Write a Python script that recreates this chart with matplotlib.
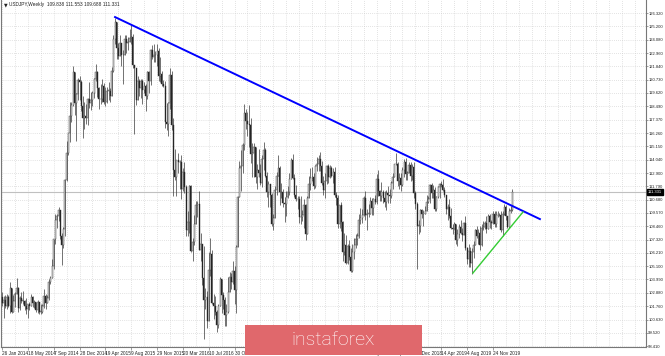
import numpy as np
import matplotlib
matplotlib.use("Agg")
import matplotlib.pyplot as plt
from matplotlib.patches import Rectangle

# USDJPY weekly candles, 26 Jan 2014 .. 16 Feb 2020 (open = previous close)
first_open = 102.5
closes = [
    # 2014
    102.0, 102.3, 101.8, 102.5, 101.8, 103.3, 101.3, 102.2, 102.8, 103.3,
    101.6, 102.4, 102.2, 102.2, 101.8, 101.5, 101.9, 101.8, 102.5, 102.0,
    102.1, 101.4, 102.1, 101.3, 101.3, 101.8, 102.6, 102.0, 102.4, 103.8,
    104.1, 105.1, 107.4, 109.0, 109.3, 109.8, 107.6, 106.9, 108.2, 112.3,
    114.6, 116.3, 117.7, 118.6, 121.4, 118.8, 119.5, 120.7, 120.5,
    # 2015
    118.5, 117.5, 117.7, 117.5, 119.1, 118.8, 119.0, 119.6, 120.8, 121.4,
    120.0, 119.1, 119.1, 120.2, 118.9, 118.9, 119.8, 119.8, 119.4, 121.5,
    124.1, 125.6, 123.4, 122.7, 123.8, 122.8, 122.8, 124.1, 123.8, 123.9,
    124.2, 124.3, 122.0, 121.7, 119.0, 120.6, 120.0, 120.6, 119.9, 120.2,
    119.4, 121.4, 120.6, 123.2, 122.6, 122.8, 122.8, 123.1, 121.0, 121.2,
    120.4, 120.2,
    # 2016
    117.2, 117.0, 118.8, 121.1, 116.9, 113.2, 112.6, 114.0, 113.8, 113.8,
    111.6, 113.0, 111.7, 108.1, 108.8, 111.8, 106.4, 107.1, 108.6, 110.2,
    110.3, 106.5, 107.0, 104.1, 102.3, 102.5, 100.5, 104.8, 106.1, 102.0,
    101.8, 101.3, 100.2, 101.8, 104.0, 102.7, 102.3, 101.0, 101.3, 102.9,
    104.2, 103.8, 104.7, 103.1, 106.7, 110.9, 113.3, 113.5, 115.3, 117.9,
    117.3, 117.0,
    # 2017
    116.9, 114.5, 114.6, 115.1, 112.6, 113.2, 112.9, 112.1, 114.1, 114.8,
    112.7, 111.3, 112.0, 111.1, 108.6, 109.1, 111.5, 112.7, 113.3, 111.3,
    111.3, 110.4, 110.3, 110.9, 111.3, 112.4, 114.0, 112.5, 111.1, 110.7,
    110.7, 109.2, 109.2, 109.4, 110.2, 107.8, 110.8, 112.0, 112.5, 112.6,
    111.8, 113.5, 113.7, 114.1, 113.5, 112.1, 111.5, 112.2, 113.5, 112.6,
    113.3, 112.7,
    # 2018
    113.0, 111.1, 110.8, 108.6, 110.2, 108.8, 106.3, 106.9, 105.4, 106.8,
    105.9, 104.7, 106.3, 106.9, 107.4, 107.6, 109.0, 109.1, 109.4, 110.8,
    109.4, 109.5, 109.5, 110.6, 110.0, 110.7, 110.5, 112.4, 111.4, 111.0,
    111.3, 110.8, 110.5, 111.25, 111.1, 111.0, 112.05, 112.6, 113.7, 113.7,
    112.2, 112.5, 111.9, 113.2, 113.8, 112.8, 112.9, 113.6, 112.7, 113.4,
    111.2, 110.3,
    # 2019 - 2020
    108.5, 108.5, 109.8, 109.5, 109.5, 109.7, 110.5, 110.7, 111.9, 111.2,
    111.5, 109.9, 110.9, 111.7, 112.0, 111.9, 111.5, 111.1, 109.9, 110.1,
    109.3, 108.3, 108.2, 108.6, 107.3, 107.8, 108.4, 107.9, 107.7, 108.7,
    106.6, 105.7, 106.4, 105.4, 106.3, 106.9, 108.1, 107.6, 107.9, 106.9,
    108.3, 108.4, 108.7, 108.2, 109.3, 108.8, 108.7, 109.5, 108.6, 109.4,
    109.4, 109.4, 108.1, 109.5, 110.1, 109.3, 108.35, 109.7, 109.838, 111.331,
]
highs = [
    # 2014
    102.9, 102.6, 102.7, 102.8, 102.7, 103.75, 103.3, 102.7, 102.9, 104.1,
    103.4, 102.6, 102.9, 103.0, 102.3, 102.4, 101.9, 102.1, 102.8, 102.6,
    102.3, 102.1, 102.3, 102.1, 101.9, 101.9, 103.15, 102.8, 102.7, 104.0,
    104.3, 105.7, 107.4, 109.45, 109.5, 110.1, 109.0, 107.9, 108.4, 112.4,
    115.6, 116.3, 118.9, 118.9, 121.85, 121.4, 119.6, 120.85, 121.0,
    # 2015
    120.7, 119.4, 118.9, 118.7, 119.2, 120.5, 119.7, 119.8, 120.9, 122.03,
    121.5, 120.1, 120.35, 120.8, 120.45, 120.1, 120.1, 120.5, 120.0, 121.8,
    124.45, 125.86, 125.5, 123.8, 124.45, 123.5, 123.2, 124.5, 124.5, 124.3,
    125.0, 125.3, 124.6, 121.8, 121.75, 121.0, 120.8, 120.8, 120.8, 120.5,
    120.4, 121.5, 121.5, 123.3, 123.6, 123.75, 123.1, 123.7, 123.4, 122.6,
    121.5, 120.7,
    # 2016
    120.6, 118.8, 118.9, 121.7, 121.5, 117.5, 114.9, 114.0, 114.6, 114.0,
    114.4, 113.3, 113.8, 111.9, 109.7, 111.9, 111.9, 107.5, 109.4, 110.6,
    110.6, 111.4, 107.9, 107.0, 106.8, 103.3, 103.0, 106.3, 107.5, 106.5,
    102.8, 102.6, 101.4, 101.9, 104.2, 104.0, 102.95, 102.5, 101.9, 104.2,
    104.6, 104.5, 105.5, 105.1, 106.9, 111.0, 113.9, 114.8, 115.4, 118.66,
    118.3, 118.0,
    # 2017
    118.6, 117.5, 115.4, 115.4, 115.05, 113.7, 114.95, 113.7, 114.4, 115.5,
    115.0, 113.0, 112.2, 111.6, 111.2, 109.5, 111.8, 113.0, 114.4, 113.5,
    112.1, 111.6, 110.9, 111.4, 111.8, 112.9, 114.2, 114.5, 112.8, 111.9,
    111.0, 111.0, 110.95, 109.8, 110.7, 110.3, 111.0, 112.7, 113.3, 113.4,
    112.9, 113.6, 114.25, 114.4, 114.7, 113.9, 112.7, 112.9, 113.6, 113.7,
    113.6, 113.5,
    # 2018
    113.3, 113.4, 111.3, 111.1, 110.2, 110.45, 108.9, 107.9, 107.7, 107.0,
    107.3, 106.6, 107.0, 107.5, 107.8, 107.9, 109.5, 110.0, 109.9, 111.0,
    111.4, 109.9, 110.3, 110.9, 110.8, 110.8, 111.1, 112.8, 113.2, 111.5,
    112.15, 111.5, 111.4, 111.5, 111.8, 111.6, 112.2, 112.9, 113.7, 114.55,
    113.8, 112.9, 112.9, 113.4, 114.1, 114.2, 113.1, 113.8, 113.8, 113.7,
    113.8, 111.4,
    # 2019 - 2020
    110.5, 109.0, 109.9, 109.9, 109.8, 110.15, 111.1, 110.95, 112.0, 112.1,
    111.9, 111.7, 111.0, 111.8, 112.1, 112.2, 112.4, 111.7, 111.1, 110.3,
    110.7, 110.0, 108.6, 108.8, 108.6, 108.2, 108.6, 108.95, 108.3, 108.8,
    109.3, 106.7, 106.95, 106.7, 106.6, 107.2, 108.25, 108.5, 108.2, 108.5,
    108.6, 108.9, 108.9, 109.3, 109.5, 109.5, 109.0, 109.7, 109.7, 109.7,
    109.7, 109.6, 109.7, 109.7, 110.3, 110.2, 109.3, 110.0, 110.15, 111.553,
]
lows = [
    # 2014
    101.8, 100.75, 101.6, 101.5, 101.7, 101.2, 101.2, 101.3, 101.7, 102.8,
    101.3, 101.4, 102.0, 101.9, 101.4, 101.1, 100.8, 101.4, 101.8, 101.7,
    101.6, 101.3, 101.2, 101.1, 101.1, 101.2, 101.6, 101.5, 102.0, 102.3,
    103.6, 104.1, 104.9, 107.0, 108.3, 108.9, 107.4, 105.2, 106.6, 107.6,
    112.2, 114.4, 115.5, 117.2, 118.5, 117.8, 115.6, 119.0, 119.0,
    # 2015
    118.1, 115.85, 116.6, 117.0, 116.9, 118.4, 118.2, 118.5, 119.2, 120.6,
    119.3, 118.3, 118.7, 118.9, 118.7, 118.5, 118.8, 119.0, 118.9, 119.5,
    121.4, 123.7, 122.45, 122.5, 122.7, 121.9, 120.4, 122.8, 123.0, 123.2,
    123.9, 123.7, 121.7, 116.15, 118.6, 119.2, 119.4, 119.2, 118.7, 119.6,
    118.1, 119.1, 119.6, 120.3, 122.5, 122.2, 122.2, 121.9, 120.6, 120.5,
    120.2, 120.1,
    # 2016
    116.7, 116.5, 115.98, 118.3, 116.55, 110.98, 112.3, 111.0, 112.9, 111.6,
    110.7, 111.4, 111.2, 107.65, 107.6, 107.9, 106.3, 105.55, 106.9, 108.7,
    109.2, 106.5, 105.55, 103.55, 99.0, 101.5, 99.95, 100.8, 104.3, 101.9,
    100.7, 101.0, 99.55, 99.9, 101.8, 101.2, 101.5, 100.1, 100.1, 101.2,
    103.2, 103.2, 103.6, 101.9, 101.2, 106.8, 110.9, 111.4, 112.9, 114.8,
    116.6, 116.0,
    # 2017
    115.05, 113.75, 112.55, 112.55, 112.1, 111.6, 112.6, 111.9, 111.7, 113.2,
    112.6, 110.9, 110.1, 110.1, 108.5, 108.1, 109.2, 111.1, 112.8, 110.2,
    110.8, 110.1, 108.8, 109.3, 110.8, 111.1, 112.4, 112.4, 110.9, 110.6,
    109.9, 108.75, 108.6, 108.9, 108.3, 107.3, 107.8, 110.9, 111.5, 112.2,
    111.6, 111.65, 113.1, 113.1, 113.1, 111.9, 111.1, 110.85, 112.0, 112.1,
    112.5, 112.6,
    # 2018
    112.05, 110.9, 110.2, 108.3, 108.3, 108.05, 105.55, 106.05, 105.25, 105.25,
    105.6, 104.6, 104.65, 105.7, 106.6, 106.9, 107.5, 108.65, 108.7, 109.3,
    109.0, 108.1, 109.2, 109.6, 109.4, 109.4, 110.3, 110.3, 111.0, 110.6,
    110.6, 110.4, 110.1, 109.8, 110.4, 110.4, 110.8, 111.6, 112.6, 113.6,
    111.8, 111.6, 111.4, 111.8, 112.6, 112.3, 112.3, 112.9, 112.2, 112.3,
    110.8, 109.9,
    # 2019 - 2020
    104.9, 107.8, 108.0, 109.1, 108.5, 109.5, 109.7, 110.4, 110.4, 110.8,
    110.8, 109.7, 109.7, 110.8, 110.8, 111.7, 111.4, 110.9, 109.5, 109.0,
    109.1, 108.25, 107.8, 108.2, 107.0, 106.8, 107.5, 107.8, 107.2, 107.8,
    106.5, 105.3, 105.05, 105.05, 104.45, 105.75, 106.9, 107.45, 107.0, 106.5,
    106.8, 108.1, 108.2, 107.9, 108.3, 108.3, 108.25, 108.6, 108.4, 108.4,
    109.2, 109.3, 108.0, 107.65, 109.4, 108.95, 108.3, 108.3, 109.55, 109.688,
]

date_labels = ["26 Jan 2014", "18 May 2014", "7 Sep 2014", "28 Dec 2014",
               "19 Apr 2015", "9 Aug 2015", "29 Nov 2015", "20 Mar 2016",
               "10 Jul 2016", "30 Oct 2016", "19 Feb 2017", "11 Jun 2017",
               "1 Oct 2017", "21 Jan 2018", "13 May 2018", "2 Sep 2018",
               "23 Dec 2018", "14 Apr 2019", "4 Aug 2019", "24 Nov 2019"]
price_ticks = [126.320, 125.200, 124.080, 122.960, 121.840, 120.730, 119.620,
               118.490, 117.370, 116.260, 115.150, 114.040, 112.900, 111.790,
               110.680, 109.570, 108.460, 107.320, 106.210, 105.100, 103.990,
               102.880, 101.760, 100.630, 99.520, 98.410]
last_price = 111.331
# trend lines: (week index, price) end points
resist_x, resist_y = [70.0, 333.1], [125.98, 109.05]
support_x, support_y = [291.6, 322.6], [104.53, 109.64]
header = "USDJPY,Weekly  109.838 111.553 109.688 111.331"

c = np.array(closes)
h = np.array(highs)
l = np.array(lows)
assert len(c) == len(h) == len(l), (len(c), len(h), len(l))
o = np.r_[first_open, c[:-1]]
h = np.maximum(h, np.maximum(o, c))
l = np.minimum(l, np.minimum(o, c))
x = np.arange(len(c))

SMALL = 3.4
YSMALL = 3.0
FONT = "Liberation Sans"

W, H = 665, 356
fig = plt.figure(figsize=(W / 100, H / 100), dpi=100)
ax = fig.add_axes([1 / W, 9 / H, 645 / W, 347 / H])
ax.set_xlim(-0.62, 398.8)
ax.set_ylim(98.33, 127.41)

# dotted MT4-style grid
for gx in np.arange(0, 400, 8):
    ax.axvline(gx, color="#c8c8c8", lw=0.5, ls=(0, (1, 2)), zorder=0)
for gy in price_ticks:
    ax.axhline(gy, color="#c8c8c8", lw=0.5, ls=(0, (1, 2)), zorder=0)
ax.axhline(last_price, color="#c0c0c0", lw=0.8, zorder=1)

# candles
ax.vlines(x, l, h, color="#3a3a3a", lw=0.5, zorder=2)
bull = c >= o
ax.bar(x, np.maximum(np.abs(c - o), 0.03), bottom=np.minimum(o, c), width=0.62,
       color=np.where(bull, "#ffffff", "#1a1a1a"), edgecolor="#333333",
       lw=0.3, zorder=3)

ax.plot(resist_x, resist_y, color="#0000ff", lw=1.4, zorder=4)
ax.plot(support_x, support_y, color="#33cc33", lw=1.0, zorder=4)

# axes
ax.spines["top"].set_visible(False)
for s in ("left", "right", "bottom"):
    ax.spines[s].set_color("#777777")
    ax.spines[s].set_linewidth(0.8)
ax.yaxis.tick_right()
ax.set_yticks(price_ticks, ["%.3f" % v for v in price_ticks])
ax.set_xticks(np.arange(len(date_labels)) * 16, date_labels)
for lab in ax.get_xticklabels():
    lab.set_ha("left")
for lab in ax.get_xticklabels() + ax.get_yticklabels():
    lab.set_family(FONT)
ax.tick_params(axis="x", labelsize=SMALL, length=2, width=0.5,
               color="#777777", labelcolor="#222222", pad=0.8)
ax.tick_params(axis="y", labelsize=YSMALL, length=1.2, width=0.5,
               color="#777777", labelcolor="#222222", pad=0.4)

ax.text(1.0025, last_price, "%.3f" % last_price, transform=ax.get_yaxis_transform(),
        ha="left", va="center", fontsize=YSMALL, family=FONT, color="white",
        bbox=dict(boxstyle="square,pad=0.2", fc="black", ec="black"), zorder=6)
ax.text(0.004, 0.993, "\u25bc", transform=ax.transAxes, ha="left", va="top",
        fontsize=SMALL, color="#222222")
ax.text(0.012, 0.993, header, transform=ax.transAxes, ha="left", va="top",
        fontsize=SMALL, family=FONT, color="#222222")

# watermark logo
fig.patches.append(Rectangle((245 / W, 1 / H), 177 / W, 30 / H,
                             transform=fig.transFigure, fc="#e0686c",
                             ec="none", zorder=10))
fig.text(333.5 / W, 16 / H, "instaforex", ha="center", va="center",
         color="white", fontsize=14, family="Roboto", weight="light", zorder=11)

fig.savefig("out.png", dpi=100)
